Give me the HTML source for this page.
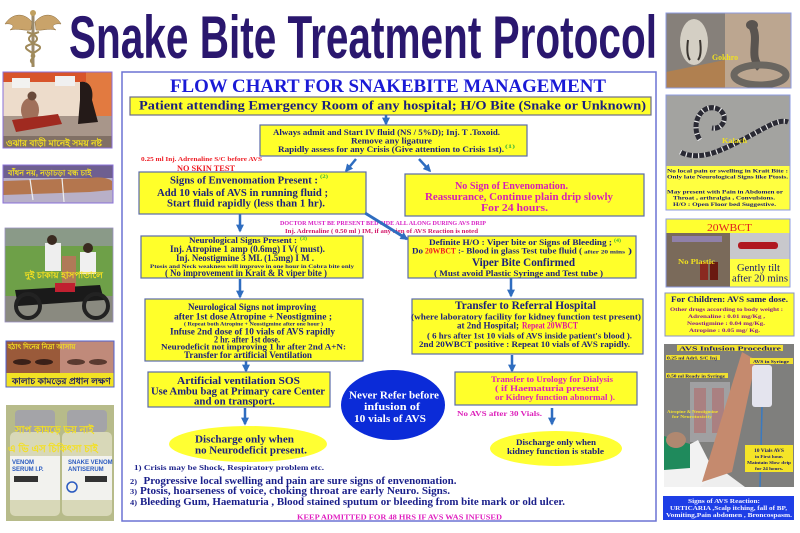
<!DOCTYPE html>
<html><head><meta charset="utf-8"><style>
html,body{margin:0;padding:0;background:#fff;}
svg{display:block;}
text{font-family:"Liberation Serif",serif;font-weight:bold;}
.bn{font-family:"Liberation Sans",sans-serif;}
</style></head><body>
<svg width="800" height="533" viewBox="0 0 800 533" xmlns="http://www.w3.org/2000/svg">
<defs>
<marker id="ah" viewBox="0 0 10 10" refX="8" refY="5" markerWidth="8" markerHeight="8" markerUnits="userSpaceOnUse" orient="auto"><path d="M0,0 L10,5 L0,10 z" fill="#2f6dc0"/></marker>
</defs>
<rect width="800" height="533" fill="#fff"/>

<!-- Caduceus -->
<g>
<path d="M32,22 C24,12 12,13 5,24 C12,23 16,26 10,30 C18,28 24,31 31,30 Z" fill="#c9a36a" stroke="#8a6a3a" stroke-width="0.5"/>
<path d="M35,22 C43,12 55,13 61,24 C54,23 50,26 56,30 C48,28 42,31 36,30 Z" fill="#c9a36a" stroke="#8a6a3a" stroke-width="0.5"/>
<rect x="31.5" y="13" width="3" height="54" fill="#9c8a6a"/>
<circle cx="33" cy="13" r="3" fill="#c0a060"/>
<path d="M27,32 C40,36 40,41 29,45 C18,49 40,53 33,58 C27,62 36,64 33,66" fill="none" stroke="#a08a5a" stroke-width="2"/>
<path d="M39,32 C26,36 26,41 37,45 C48,49 26,53 33,58" fill="none" stroke="#a08a5a" stroke-width="2"/>
</g>

<!-- Title -->
<text x="69" y="58" style="font-family:'Liberation Sans',sans-serif;font-weight:bold" font-size="60" fill="#2a176e" textLength="588" lengthAdjust="spacingAndGlyphs">Snake Bite Treatment Protocol</text>

<!-- Left images -->
<g>
<rect x="3" y="72" width="109" height="76" fill="#eddccb"/>
<rect x="3" y="72" width="109" height="10" fill="#d8542a"/>
<rect x="86" y="72" width="26" height="50" fill="#e27a40"/>
<rect x="12" y="78" width="18" height="10" fill="#f2f2f0"/>
<rect x="55" y="76" width="20" height="10" fill="#f0f0f0"/>
<rect x="3" y="116" width="109" height="32" fill="#a8968a"/>
<path d="M80,82 C90,80 94,90 92,100 L98,122 L78,124 L80,100 Z" fill="#241a18"/>
<ellipse cx="30" cy="110" rx="9" ry="12" fill="#a0705a"/>
<circle cx="32" cy="96" r="4.5" fill="#6a4a3a"/>
<path d="M12,120 L58,114 L62,124 L16,132 Z" fill="#a02a20"/>
<rect x="3" y="136" width="109" height="12" fill="#5a4a40" opacity="0.5"/>
<text class="bn" x="6" y="146" font-size="9" fill="#f4e020">ওঝার বাড়ী মানেই সময় নষ্ট</text>
<rect x="3" y="72" width="109" height="76" fill="none" stroke="#8a70d8" stroke-width="1"/>
</g>
<g>
<rect x="3" y="165" width="110" height="38" fill="#b8b0c8"/>
<rect x="3" y="165" width="110" height="13" fill="#6e5f90"/>
<path d="M3,181 L90,178 Q105,176 112,181 L112,190 L90,192 L3,195 Z" fill="#b4764e"/>
<line x1="30" y1="179" x2="33" y2="200" stroke="#eee" stroke-width="1.2"/>
<line x1="62" y1="178" x2="64" y2="202" stroke="#eee" stroke-width="1.2"/>
<text class="bn" x="8" y="175.5" font-size="8" fill="#f4e020">বাঁধন নয়, নড়াচড়া বন্ধ চাই</text>
<rect x="3" y="165" width="110" height="38" fill="none" stroke="#8a70d8" stroke-width="1"/>
</g>
<g>
<rect x="5" y="228" width="108" height="94" fill="#6ea048"/>
<rect x="5" y="228" width="108" height="18" fill="#8a9a88"/>
<rect x="5" y="296" width="108" height="26" fill="#8a8a80"/>
<rect x="45" y="243" width="16" height="28" fill="#eeeeee"/>
<rect x="80" y="252" width="16" height="22" fill="#f0f0f0"/>
<circle cx="52" cy="240" r="5" fill="#3a2a20"/>
<circle cx="88" cy="248" r="5" fill="#3a2a20"/>
<rect x="62" y="256" width="14" height="30" fill="#b07a58"/>
<path d="M15,290 L100,285 L104,300 L18,306 Z" fill="#1a1a1a"/>
<circle cx="28" cy="306" r="12" fill="none" stroke="#222" stroke-width="4"/>
<circle cx="96" cy="306" r="12" fill="none" stroke="#222" stroke-width="4"/>
<rect x="55" y="283" width="20" height="9" fill="#c02030"/>
<text class="bn" x="25" y="278" font-size="9" fill="#f4e020">দুই চাকায় হাসপাতালে</text>
<rect x="5" y="228" width="108" height="94" fill="none" stroke="#9a90c0" stroke-width="0.8"/>
</g>
<g>
<rect x="6" y="341" width="54" height="32" fill="#9a5a3a"/>
<rect x="60" y="341" width="54" height="32" fill="#c08a7a"/>
<ellipse cx="22" cy="362" rx="9" ry="3" fill="#3a2018"/>
<ellipse cx="44" cy="362" rx="9" ry="3" fill="#3a2018"/>
<ellipse cx="76" cy="362" rx="9" ry="3" fill="#5a3a30"/>
<ellipse cx="98" cy="362" rx="9" ry="3" fill="#5a3a30"/>
<text class="bn" x="8" y="349" font-size="7" fill="#f4e020">হঠাৎ দিনের নিদ্রা আসায়</text>
<rect x="6" y="373" width="108" height="14" fill="#f2e224"/>
<text class="bn" x="12" y="384" font-size="9" fill="#1a1a60">কালাচ কামড়ের প্রধান লক্ষণ</text>
<rect x="6" y="341" width="108" height="46" fill="none" stroke="#5060d0" stroke-width="1"/>
</g>
<g>
<rect x="6" y="405" width="108" height="116" fill="#b7bb8a"/>
<rect x="15" y="410" width="40" height="22" rx="4" fill="#a4a4a8"/>
<rect x="67" y="410" width="40" height="22" rx="4" fill="#a4a4a8"/>
<rect x="10" y="432" width="50" height="84" rx="5" fill="#d8d8b8"/>
<rect x="62" y="432" width="50" height="84" rx="5" fill="#d8d8b8"/>
<rect x="10" y="456" width="50" height="44" fill="#f2f2ee"/>
<rect x="62" y="456" width="50" height="44" fill="#f2f2ee"/>
<text x="12" y="464" font-size="6" fill="#2a5ac0" style="font-family:'Liberation Sans',sans-serif">VENOM</text>
<text x="12" y="471" font-size="6" fill="#2a5ac0" style="font-family:'Liberation Sans',sans-serif">SERUM I.P.</text>
<text x="68" y="464" font-size="6" fill="#2a5ac0" style="font-family:'Liberation Sans',sans-serif">SNAKE VENOM</text>
<text x="68" y="471" font-size="6" fill="#2a5ac0" style="font-family:'Liberation Sans',sans-serif">ANTISERUM</text>
<rect x="14" y="476" width="24" height="6" fill="#333"/>
<rect x="85" y="476" width="22" height="6" fill="#333"/>
<circle cx="72" cy="487" r="5" fill="none" stroke="#2a5ac0" stroke-width="1.5"/>
<text class="bn" x="15" y="433" font-size="10" fill="#f4e020">সাপ কামড়ে ভয় নাই</text>
<text class="bn" x="8" y="452" font-size="10" fill="#f4e020">এ ভি এস চিকিৎসা চাই</text>
</g>

<!-- Main frame -->
<rect x="122" y="72" width="534" height="449" fill="#fff" stroke="#6b72d4" stroke-width="1.5"/>

<text x="170" y="92" font-size="19" fill="#1a1ad6" textLength="436" lengthAdjust="spacingAndGlyphs">FLOW CHART FOR SNAKEBITE MANAGEMENT</text>

<rect x="130" y="97" width="521" height="18" fill="#ffff2a" stroke="#6b6b8b" stroke-width="1.2"/>
<text x="139" y="109.5" font-size="13" fill="#1b1f7e" textLength="507" lengthAdjust="spacingAndGlyphs">Patient attending Emergency Room of any hospital; H/O Bite (Snake or Unknown)</text>

<g stroke="#2f6dc0" stroke-width="2.5" marker-end="url(#ah)" fill="none">
<line x1="386" y1="115" x2="386" y2="124"/>
<line x1="356" y1="159" x2="346" y2="171"/>
<line x1="419" y1="159" x2="430" y2="171"/>
<line x1="240" y1="214" x2="240" y2="231"/>
<line x1="240" y1="279" x2="240" y2="297"/>
<line x1="511" y1="278" x2="511" y2="296"/>
<line x1="246" y1="361" x2="246" y2="371"/>
<line x1="512" y1="355" x2="512" y2="371"/>
<line x1="245" y1="408" x2="245" y2="424"/>
<line x1="552" y1="408" x2="552" y2="424"/>
</g>

<rect x="260" y="125" width="267" height="31" fill="#ffff2a" stroke="#5a6aaa" stroke-width="1.2"/>
<text x="273" y="135" font-size="8.5" fill="#1b1f7e" textLength="227" lengthAdjust="spacingAndGlyphs">Always admit and Start IV fluid (NS / 5%D); Inj. T .Toxoid.</text>
<text x="351" y="143.5" font-size="8.5" fill="#1b1f7e" textLength="81" lengthAdjust="spacingAndGlyphs">Remove any ligature</text>
<text x="278" y="152" font-size="8.5" fill="#1b1f7e" textLength="226" lengthAdjust="spacingAndGlyphs">Rapidly assess for any Crisis (Give attention to Crisis 1st).</text>
<text x="505" y="148" font-size="5" fill="#3cb43c" textLength="10" lengthAdjust="spacingAndGlyphs">(1)</text>

<text x="141" y="161" font-size="6.3" fill="#ee1c24" textLength="121" lengthAdjust="spacingAndGlyphs">0.25 ml Inj. Adrenaline S/C before AVS</text>
<text x="177" y="171" font-size="8" fill="#ee1c24" textLength="58" lengthAdjust="spacingAndGlyphs">NO SKIN TEST</text>

<rect x="139" y="172" width="227" height="42" fill="#ffff2a" stroke="#5a6aaa" stroke-width="1.2"/>
<text x="170" y="183.5" font-size="11" fill="#1b1f7e" textLength="148" lengthAdjust="spacingAndGlyphs">Signs of Envenomation Present :</text>
<text x="320" y="178" font-size="5" fill="#3cb43c" textLength="8" lengthAdjust="spacingAndGlyphs">(2)</text>
<text x="157" y="196" font-size="11" fill="#1b1f7e" textLength="171" lengthAdjust="spacingAndGlyphs">Add 10 vials of AVS in running fluid ;</text>
<text x="167" y="206.5" font-size="11" fill="#1b1f7e" textLength="158" lengthAdjust="spacingAndGlyphs">Start fluid rapidly (less than 1 hr).</text>

<rect x="405" y="174" width="239" height="42" fill="#ffff2a" stroke="#5a6aaa" stroke-width="1.2"/>
<text x="455" y="189" font-size="11" fill="#d61fb6" textLength="113" lengthAdjust="spacingAndGlyphs">No Sign of Envenomation.</text>
<text x="425" y="200" font-size="11" fill="#d61fb6" textLength="188" lengthAdjust="spacingAndGlyphs">Reassurance, Continue plain drip slowly</text>
<text x="481" y="211" font-size="11" fill="#d61fb6" textLength="67" lengthAdjust="spacingAndGlyphs">For 24 hours.</text>

<text x="280" y="225" font-size="6" fill="#d81fc4" textLength="206" lengthAdjust="spacingAndGlyphs">DOCTOR MUST BE PRESENT BED SIDE ALL ALONG DURING AVS DRIP</text>
<text x="285" y="233" font-size="6" fill="#d4186a" textLength="193" lengthAdjust="spacingAndGlyphs">Inj. Adrenaline ( 0.50 ml ) IM, if any sign of AVS Reaction is noted</text>
<line x1="365" y1="213" x2="407" y2="239" stroke="#2f6dc0" stroke-width="3" marker-end="url(#ah)"/>

<rect x="141" y="236" width="222" height="42" fill="#ffff2a" stroke="#5a6aaa" stroke-width="1.2"/>
<text x="189" y="243" font-size="8.5" fill="#1b1f7e" textLength="108" lengthAdjust="spacingAndGlyphs">Neurological Signs Present :</text>
<text x="300" y="240" font-size="5" fill="#3cb43c" textLength="7" lengthAdjust="spacingAndGlyphs">(3)</text>
<text x="170" y="252" font-size="9.5" fill="#1b1f7e" textLength="155" lengthAdjust="spacingAndGlyphs">Inj. Atropine 1 amp (0.6mg) I V( must).</text>
<text x="176" y="261" font-size="9.5" fill="#1b1f7e" textLength="138" lengthAdjust="spacingAndGlyphs">Inj. Neostigmine 3 ML (1.5mg) I M .</text>
<text x="150" y="268" font-size="5.5" fill="#1b1f7e" textLength="204" lengthAdjust="spacingAndGlyphs">Ptosis and Neck weakness will improve in one hour in Cobra bite only</text>
<text x="165" y="276" font-size="9" fill="#1b1f7e" textLength="162" lengthAdjust="spacingAndGlyphs">( No improvement in Krait &amp; R viper bite )</text>

<rect x="408" y="236" width="228" height="42" fill="#ffff2a" stroke="#5a6aaa" stroke-width="1.2"/>
<text x="429" y="245" font-size="8.5" fill="#1b1f7e" textLength="183" lengthAdjust="spacingAndGlyphs">Definite H/O : Viper bite or Signs of Bleeding ;</text>
<text x="614" y="242" font-size="5" fill="#3cb43c" textLength="7" lengthAdjust="spacingAndGlyphs">(4)</text>
<text x="412" y="253.5" font-size="8.5" fill="#1b1f7e" textLength="11" lengthAdjust="spacingAndGlyphs">Do</text>
<text x="425" y="253.5" font-size="8.5" fill="#ee1c24" textLength="31" lengthAdjust="spacingAndGlyphs">20WBCT</text>
<text x="458" y="253.5" font-size="8.5" fill="#1b1f7e" textLength="124" lengthAdjust="spacingAndGlyphs">:- Blood in glass Test tube fluid (</text>
<text x="584" y="253.5" font-size="5.5" fill="#1b1f7e" textLength="41" lengthAdjust="spacingAndGlyphs">after 20 mins</text>
<text x="628" y="253.5" font-size="8.5" fill="#1b1f7e" textLength="4" lengthAdjust="spacingAndGlyphs">)</text>
<text x="472" y="266" font-size="12" fill="#1b1f7e" textLength="103" lengthAdjust="spacingAndGlyphs">Viper Bite Confirmed</text>
<text x="434" y="276" font-size="8.5" fill="#1b1f7e" textLength="169" lengthAdjust="spacingAndGlyphs">( Must avoid Plastic Syringe and Test tube )</text>

<rect x="145" y="299" width="218" height="62" fill="#ffff2a" stroke="#5a6aaa" stroke-width="1.2"/>
<text x="188" y="310" font-size="9.5" fill="#1b1f7e" textLength="128" lengthAdjust="spacingAndGlyphs">Neurological Signs not improving</text>
<text x="174" y="319.5" font-size="9" fill="#1b1f7e" textLength="158" lengthAdjust="spacingAndGlyphs">after 1st  dose  Atropine + Neostigmine ;</text>
<text x="184" y="325.5" font-size="5" fill="#1b1f7e" textLength="139" lengthAdjust="spacingAndGlyphs">( Repeat both Atropine + Neostigmine after one hour )</text>
<text x="170" y="334.5" font-size="9" fill="#1b1f7e" textLength="165" lengthAdjust="spacingAndGlyphs">Infuse 2nd dose of 10 vials of AVS rapidly</text>
<text x="214" y="342.5" font-size="9" fill="#1b1f7e" textLength="66" lengthAdjust="spacingAndGlyphs">2 hr. after 1st dose.</text>
<text x="161" y="349.5" font-size="8.5" fill="#1b1f7e" textLength="185" lengthAdjust="spacingAndGlyphs">Neurodeficit not improving 1 hr after 2nd A+N:</text>
<text x="184" y="358" font-size="9" fill="#1b1f7e" textLength="128" lengthAdjust="spacingAndGlyphs">Transfer for artificial Ventilation</text>

<rect x="412" y="299" width="231" height="55" fill="#ffff2a" stroke="#5a6aaa" stroke-width="1.2"/>
<text x="455" y="309" font-size="12" fill="#1b1f7e" textLength="141" lengthAdjust="spacingAndGlyphs">Transfer to Referral Hospital</text>
<text x="411" y="319.5" font-size="8.5" fill="#1b1f7e" textLength="230" lengthAdjust="spacingAndGlyphs">(where laboratory facility for kidney function test present)</text>
<text x="457" y="328.5" font-size="9" fill="#1b1f7e" textLength="62" lengthAdjust="spacingAndGlyphs">at 2nd Hospital;</text>
<text x="522" y="328.5" font-size="9" fill="#e0189a" textLength="56" lengthAdjust="spacingAndGlyphs">Repeat 20WBCT</text>
<text x="427" y="338.5" font-size="8.5" fill="#1b1f7e" textLength="205" lengthAdjust="spacingAndGlyphs">( 6 hrs after 1st 10 vials of AVS inside patient's blood ).</text>
<text x="419" y="347" font-size="8.5" fill="#1b1f7e" textLength="211" lengthAdjust="spacingAndGlyphs">2nd 20WBCT positive : Repeat 10 vials of AVS rapidly.</text>

<rect x="148" y="372" width="182" height="35" fill="#ffff2a" stroke="#5a6aaa" stroke-width="1.2"/>
<text x="177" y="384" font-size="11" fill="#1b1f7e" textLength="123" lengthAdjust="spacingAndGlyphs">Artificial ventilation SOS</text>
<text x="151" y="394.5" font-size="11" fill="#1b1f7e" textLength="174" lengthAdjust="spacingAndGlyphs">Use Ambu bag at Primary care Center</text>
<text x="194" y="404.5" font-size="11" fill="#1b1f7e" textLength="81" lengthAdjust="spacingAndGlyphs">and on transport.</text>

<ellipse cx="393" cy="405" rx="52" ry="35" fill="#0b2bd8"/>
<text x="349" y="398.5" font-size="11" fill="#ffffff" textLength="90" lengthAdjust="spacingAndGlyphs">Never Refer before</text>
<text x="364" y="410" font-size="11" fill="#ffffff" textLength="56" lengthAdjust="spacingAndGlyphs">infusion of</text>
<text x="354" y="422" font-size="11" fill="#ffffff" textLength="72" lengthAdjust="spacingAndGlyphs">10 vials of AVS</text>

<rect x="455" y="372" width="182" height="33" fill="#ffff2a" stroke="#5a6aaa" stroke-width="1.2"/>
<text x="491" y="382" font-size="8.5" fill="#dd22bb" textLength="122" lengthAdjust="spacingAndGlyphs">Transfer to Urology for Dialysis</text>
<text x="495" y="391" font-size="8.5" fill="#dd22bb" textLength="104" lengthAdjust="spacingAndGlyphs">( if Haematuria  present</text>
<text x="495" y="400" font-size="8.5" fill="#dd22bb" textLength="120" lengthAdjust="spacingAndGlyphs">or Kidney function abnormal ).</text>
<text x="457" y="416" font-size="7.5" fill="#dd22bb" textLength="85" lengthAdjust="spacingAndGlyphs">No AVS after 30 Vials.</text>

<ellipse cx="248" cy="444" rx="79" ry="18" fill="#ffff33"/>
<text x="195" y="442.5" font-size="10.5" fill="#1b1f7e" textLength="99" lengthAdjust="spacingAndGlyphs">Discharge only when</text>
<text x="195" y="453.5" font-size="10.5" fill="#1b1f7e" textLength="112" lengthAdjust="spacingAndGlyphs">no Neurodeficit present.</text>

<ellipse cx="556" cy="448.5" rx="66" ry="17.5" fill="#ffff33"/>
<text x="516" y="445" font-size="8.5" fill="#1b1f7e" textLength="80" lengthAdjust="spacingAndGlyphs">Discharge only when</text>
<text x="507" y="454" font-size="8.5" fill="#1b1f7e" textLength="97" lengthAdjust="spacingAndGlyphs">kidney function is stable</text>

<text x="134" y="470" font-size="7.5" fill="#1a1f8a" textLength="190" lengthAdjust="spacingAndGlyphs">1) Crisis may be Shock, Respiratory problem etc.</text>
<text x="130" y="484" font-size="7" fill="#1a1f8a" textLength="7" lengthAdjust="spacingAndGlyphs">2)</text>
<text x="143.5" y="484" font-size="10.5" fill="#1a1f8a" textLength="313" lengthAdjust="spacingAndGlyphs">Progressive local swelling and pain are sure signs of envenomation.</text>
<text x="130" y="494" font-size="7" fill="#1a1f8a" textLength="7" lengthAdjust="spacingAndGlyphs">3)</text>
<text x="140" y="494" font-size="10.5" fill="#1a1f8a" textLength="310" lengthAdjust="spacingAndGlyphs">Ptosis, hoarseness of voice, choking throat are early Neuro. Signs.</text>
<text x="130" y="505" font-size="7" fill="#1a1f8a" textLength="7" lengthAdjust="spacingAndGlyphs">4)</text>
<text x="140" y="505" font-size="10.5" fill="#1a1f8a" textLength="425" lengthAdjust="spacingAndGlyphs">Bleeding Gum, Haematuria , Blood stained sputum or bleeding from bite mark or old ulcer.</text>
<text x="297" y="519.5" font-size="7" fill="#e020c0" textLength="205" lengthAdjust="spacingAndGlyphs">KEEP ADMITTED FOR 48 HRS IF AVS WAS INFUSED</text>

<!-- Right column: Gokhro -->
<g>
<rect x="666" y="13" width="59" height="75" fill="#86807a"/>
<polygon points="666,72 725,60 725,88 666,88" fill="#b08050"/>
<ellipse cx="694" cy="42" rx="14" ry="23" fill="#d4cfc4"/>
<path d="M688,40 Q686,55 690,60 M700,40 Q702,55 698,60" stroke="#3a3530" stroke-width="2" fill="none"/>
<rect x="725" y="13" width="66" height="75" fill="#bca690"/>
<path d="M752,26 C760,40 748,55 760,68" stroke="#5a5450" stroke-width="8" fill="none"/>
<ellipse cx="752" cy="25" rx="6" ry="5" fill="#5a5450"/>
<ellipse cx="760" cy="75" rx="26" ry="10" fill="none" stroke="#6a6660" stroke-width="7"/>
<text x="712" y="60" font-size="8" fill="#f0e020" textLength="26" lengthAdjust="spacingAndGlyphs">Gokhro</text>
<rect x="666" y="13" width="125" height="75" fill="none" stroke="#8d9be0" stroke-width="1"/>
</g>

<!-- Kalach -->
<g>
<rect x="666" y="95" width="124" height="71" fill="#a3a3a0"/>
<path d="M680,152 C700,162 722,150 742,140 C762,130 778,118 788,122" stroke="#2a2a34" stroke-width="5" fill="none"/>
<path d="M680,152 C700,162 722,150 742,140 C762,130 778,118 788,122" stroke="#e8e8e8" stroke-width="5" fill="none" stroke-dasharray="1.2 5"/>
<path d="M700,140 C690,125 700,105 715,108 C730,112 725,130 712,128" stroke="#2a2a34" stroke-width="5" fill="none"/>
<path d="M700,140 C690,125 700,105 715,108 C730,112 725,130 712,128" stroke="#e8e8e8" stroke-width="5" fill="none" stroke-dasharray="1.2 5"/>
<text x="722" y="143" font-size="7" fill="#f0e020" textLength="25" lengthAdjust="spacingAndGlyphs">Kalach</text>
<rect x="666" y="166" width="124" height="44" fill="#ffff40"/>
<text x="667" y="172.5" font-size="5.5" fill="#1a1a70" textLength="121" lengthAdjust="spacingAndGlyphs">No local pain or swelling in Krait Bite :</text>
<text x="667" y="178.5" font-size="5.5" fill="#1a1a70" textLength="121" lengthAdjust="spacingAndGlyphs">Only late Neurological Signs like Ptosis.</text>
<text x="667" y="193.5" font-size="5.5" fill="#1a1a70" textLength="116" lengthAdjust="spacingAndGlyphs">May present with Pain in Abdomen or</text>
<text x="673" y="199.5" font-size="5.5" fill="#1a1a70" textLength="102" lengthAdjust="spacingAndGlyphs">Throat , arthralgia , Convulsions.</text>
<text x="673" y="206" font-size="5.5" fill="#1a1a70" textLength="103" lengthAdjust="spacingAndGlyphs">H/O : Open Floor bed Suggestive.</text>
<rect x="666" y="95" width="124" height="115" fill="none" stroke="#8d9be0" stroke-width="1"/>
</g>

<!-- 20WBCT -->
<g>
<rect x="666" y="219" width="124" height="14" fill="#ffff30"/>
<text x="707" y="231" font-size="11" fill="#e02020" style="font-weight:normal" textLength="45" lengthAdjust="spacingAndGlyphs">20WBCT</text>
<rect x="666" y="233" width="64" height="54" fill="#7a6a5a"/>
<rect x="730" y="233" width="60" height="26" fill="#c8c8cc"/>
<rect x="738" y="242" width="40" height="7" rx="3" fill="#b01820"/>
<rect x="672" y="236" width="50" height="6" fill="#9a8aca" opacity="0.7"/>
<rect x="700" y="262" width="8" height="18" fill="#8a2a20"/>
<rect x="710" y="262" width="8" height="18" fill="#6a1a10"/>
<text x="678" y="264" font-size="7" fill="#f0e020" textLength="37" lengthAdjust="spacingAndGlyphs">No Plastic</text>
<rect x="730" y="259" width="60" height="28" fill="#ffff40"/>
<text x="737" y="271" font-size="10" fill="#1a1a70" style="font-weight:normal" textLength="43" lengthAdjust="spacingAndGlyphs">Gently tilt</text>
<text x="732" y="281.5" font-size="10" fill="#1a1a70" style="font-weight:normal" textLength="56" lengthAdjust="spacingAndGlyphs">after 20 mins</text>
<rect x="666" y="219" width="124" height="68" fill="none" stroke="#8d9be0" stroke-width="1"/>
</g>

<!-- For Children -->
<rect x="665" y="293" width="129" height="43" fill="#ffff30" stroke="#8a90c8" stroke-width="1"/>
<text x="671" y="302" font-size="8" fill="#1a1a70" textLength="117" lengthAdjust="spacingAndGlyphs">For Children: AVS same dose.</text>
<text x="670" y="311" font-size="5.5" fill="#8a1a8a" textLength="113" lengthAdjust="spacingAndGlyphs">Other drugs according to body weight :</text>
<text x="688" y="318" font-size="5.5" fill="#8a1a8a" textLength="77" lengthAdjust="spacingAndGlyphs">Adrenaline : 0.01 mg/Kg ,</text>
<text x="687" y="325" font-size="5.5" fill="#8a1a8a" textLength="78" lengthAdjust="spacingAndGlyphs">Neostigmine : 0.04 mg/Kg.</text>
<text x="689" y="332" font-size="5.5" fill="#8a1a8a" textLength="71" lengthAdjust="spacingAndGlyphs">Atropine : 0.05 mg/ Kg.</text>

<!-- AVS Infusion photo -->
<g>
<rect x="664" y="344" width="130" height="143" fill="#7f7f7d"/>
<rect x="690" y="382" width="40" height="60" fill="#a0a0a2"/>
<rect x="694" y="388" width="12" height="45" fill="#b06a6a" opacity="0.6"/>
<rect x="712" y="388" width="12" height="45" fill="#b06a6a" opacity="0.6"/>
<polygon points="664,458 698,440 722,487 664,487" fill="#f2f2f2"/>
<polygon points="700,487 722,470 745,487" fill="#eeeeee"/>
<polygon points="664,436 690,444 690,468 664,470" fill="#1f8a5c"/>
<ellipse cx="676" cy="440" rx="10" ry="8" fill="#b08870"/>
<polygon points="702,482 732,472 756,360 742,352" fill="#c58a6e"/>
<rect x="752" y="365" width="20" height="42" rx="3" fill="#e4e4ee"/>
<line x1="762" y1="407" x2="760" y2="487" stroke="#3a7ac0" stroke-width="1.5"/>
<rect x="677" y="345" width="106" height="6" fill="#f0e030"/>
<text x="679" y="350.5" font-size="6" fill="#1a1a70" textLength="102" lengthAdjust="spacingAndGlyphs">AVS Infusion Procedure</text>
<rect x="666" y="355" width="54" height="5" fill="#f0e030"/>
<text x="667" y="359.3" font-size="4.5" fill="#1a1a70" textLength="50" lengthAdjust="spacingAndGlyphs">0.25 ml Adrl. S/C Inj</text>
<rect x="666" y="373" width="62" height="5" fill="#f0e030"/>
<text x="667" y="377.3" font-size="4.5" fill="#1a1a70" textLength="58" lengthAdjust="spacingAndGlyphs">0.50 ml Ready in Syringe</text>
<rect x="750" y="358" width="43" height="6" fill="#f0e030"/>
<text x="753" y="362.8" font-size="4.5" fill="#1a1a70" textLength="36" lengthAdjust="spacingAndGlyphs">AVS in Syringe</text>
<text x="667" y="413" font-size="4.5" fill="#f0e030" textLength="51" lengthAdjust="spacingAndGlyphs">Atropine &amp; Neostigmine</text>
<text x="672" y="418" font-size="4.5" fill="#f0e030" textLength="40" lengthAdjust="spacingAndGlyphs">for Neurotoxicity</text>
<rect x="745" y="445" width="48" height="27" fill="#f4e428"/>
<text x="754" y="452" font-size="5.5" fill="#1a1a70" textLength="30" lengthAdjust="spacingAndGlyphs">10 Vials AVS</text>
<text x="755" y="458" font-size="4.5" fill="#1a1a70" textLength="28" lengthAdjust="spacingAndGlyphs">in First hour.</text>
<text x="747" y="464" font-size="4.5" fill="#1a1a70" textLength="44" lengthAdjust="spacingAndGlyphs">Maintain Slow drip</text>
<text x="755" y="470" font-size="4.5" fill="#1a1a70" textLength="28" lengthAdjust="spacingAndGlyphs">for 24 hours.</text>
</g>

<!-- Signs of AVS Reaction -->
<rect x="663" y="496" width="131" height="24" fill="#1e3ee6"/>
<text x="688" y="503" font-size="5.8" fill="#f4f4ff" textLength="72" lengthAdjust="spacingAndGlyphs">Signs of AVS Reaction:</text>
<text x="670" y="510" font-size="5.8" fill="#f4f4ff" textLength="117" lengthAdjust="spacingAndGlyphs">URTICARIA ,Scalp itching, fall of BP,</text>
<text x="666" y="517" font-size="5.8" fill="#f4f4ff" textLength="126" lengthAdjust="spacingAndGlyphs">Vomiting,Pain abdomen , Broncospasm.</text>
</svg>
</body></html>
